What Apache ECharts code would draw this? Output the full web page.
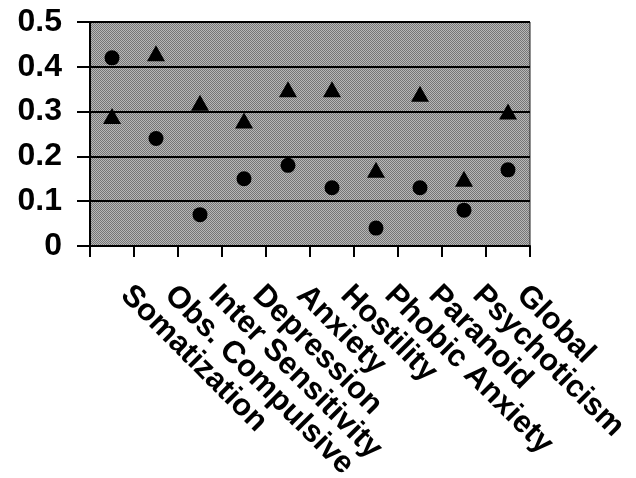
<!DOCTYPE html>
<html>
<head>
<meta charset="utf-8">
<script src="https://cdn.jsdelivr.net/npm/echarts@6/dist/echarts.min.js"></script>
<style>
  html, body { margin: 0; padding: 0; background: #fff; }
  #chart { width: 636px; height: 478px; }
</style>
</head>
<body>
<div id="chart"></div>
<script>
  // scale names along the x axis
  var categories = ['Somatization', 'Obs. Compulsive', 'Inter Sensitivity', 'Depression', 'Anxiety',
    'Hostility', 'Phobic Anxiety', 'Paranoid', 'Psychoticism', 'Global'];
  // circle markers
  var circleValues = [0.42, 0.24, 0.07, 0.15, 0.18, 0.13, 0.04, 0.13, 0.08, 0.17];
  // triangle markers
  var triangleValues = [0.29, 0.43, 0.32, 0.28, 0.35, 0.35, 0.17, 0.34, 0.15, 0.30];

  var font = '"Liberation Sans", Arial, Helvetica, sans-serif';

  // dithered gray fill like the original plot area
  function ditherPattern() {
    var c = document.createElement('canvas');
    c.width = 2; c.height = 2;
    var ctx = c.getContext('2d');
    ctx.fillStyle = '#b8b8b8';
    ctx.fillRect(0, 0, 2, 2);
    ctx.fillStyle = '#767676';
    ctx.fillRect(0, 0, 1, 1);
    ctx.fillRect(1, 1, 1, 1);
    return { image: c, repeat: 'repeat' };
  }

  var chart = echarts.init(document.getElementById('chart'), null, { renderer: 'canvas' });
  chart.setOption({
    animation: false,
    grid: {
      left: 90,
      right: 106,
      top: 22,
      bottom: 232,
      outerBoundsMode: 'none',
      show: true,
      backgroundColor: ditherPattern(),
      borderColor: '#222',
      borderWidth: 1
    },
    xAxis: {
      type: 'category',
      data: categories,
      boundaryGap: true,
      axisLine: { lineStyle: { color: '#000', width: 2 } },
      axisTick: { show: true, length: 11, lineStyle: { color: '#000', width: 2 } },
      axisLabel: {
        interval: 0,
        rotate: -45,
        margin: 31,
        padding: [0, 0, 0, 19],
        color: '#000',
        fontFamily: font,
        fontWeight: 'bold',
        fontSize: 31
      },
      splitLine: { show: false }
    },
    yAxis: {
      type: 'value',
      min: 0,
      max: 0.5,
      interval: 0.1,
      axisLine: { show: true, lineStyle: { color: '#000', width: 2 } },
      axisTick: { show: true, length: 13, lineStyle: { color: '#000', width: 2 } },
      axisLabel: {
        margin: 28,
        color: '#000',
        fontFamily: font,
        fontWeight: 'bold',
        fontSize: 32
      },
      splitLine: { show: true, lineStyle: { color: '#000', width: 2 } }
    },
    series: [{
      name: 'circle',
      type: 'scatter',
      data: circleValues,
      symbol: 'circle',
      symbolSize: 15,
      itemStyle: { color: '#000', opacity: 1 }
    }, {
      name: 'triangle',
      type: 'scatter',
      data: triangleValues,
      symbol: 'triangle',
      symbolSize: [18, 16],
      itemStyle: { color: '#000', opacity: 1 }
    }]
  });
</script>
</body>
</html>
